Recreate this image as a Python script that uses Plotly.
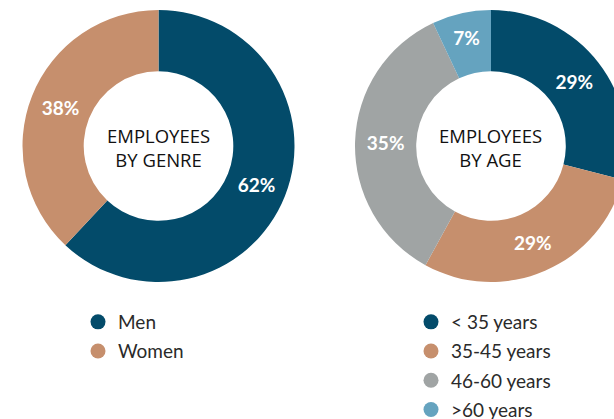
import plotly.graph_objects as go

# ---- data ----
genre_labels = ["Men", "Women"]
genre_values = [62, 38]
age_labels = ["< 35 years", "35-45 years", "46-60 years", ">60 years"]
age_values = [29, 29, 35, 7]
genre_title = "EMPLOYEES<br>BY GENRE"
age_title = "EMPLOYEES<br>BY AGE"

genre_colors = ["#034B6A", "#C68F6D"]
age_colors = ["#034B6A", "#C68F6D", "#A0A4A4", "#65A3BF"]

W, H = 640, 419

def dom_x(cx, r):
    return [(cx - r) / W, (cx + r) / W]

def dom_y(cy_top, r):
    cy = H - cy_top
    return [(cy - r) / H, (cy + r) / H]

R = 136
pie_font = dict(family="Lato", size=19, color="white", weight="bold")
fig = go.Figure()

fig.add_trace(go.Pie(
    labels=genre_labels, values=genre_values, hole=0.55, sort=False,
    direction="clockwise", rotation=0,
    marker=dict(colors=genre_colors, line=dict(width=0)),
    texttemplate="%{value}%", textposition="inside",
    insidetextorientation="horizontal", textfont=pie_font,
    domain=dict(x=dom_x(158.5, R), y=dom_y(146, R)),
    showlegend=False, hoverinfo="label+percent",
))
fig.add_trace(go.Pie(
    labels=age_labels, values=age_values, hole=0.55, sort=False,
    direction="clockwise", rotation=0,
    marker=dict(colors=age_colors, line=dict(width=0)),
    texttemplate="%{value}%", textposition="inside",
    insidetextorientation="horizontal", textfont=pie_font,
    domain=dict(x=dom_x(491, R), y=dom_y(146, R)),
    showlegend=False, hoverinfo="label+percent",
))

# legend entries (circle markers)
for i, (lab, col) in enumerate(zip(genre_labels, genre_colors)):
    fig.add_trace(go.Scatter(x=[None], y=[None], mode="markers", name=lab,
                             marker=dict(color=col, size=15, symbol="circle"),
                             legend="legend", legendgroup="g%d" % i))
for i, (lab, col) in enumerate(zip(age_labels, age_colors)):
    fig.add_trace(go.Scatter(x=[None], y=[None], mode="markers", name=lab,
                             marker=dict(color=col, size=15, symbol="circle"),
                             legend="legend2", legendgroup="a%d" % i))

legend_common = dict(
    font=dict(family="Lato", size=19, color="#2a2a2a"),
    bgcolor="rgba(0,0,0,0)", itemclick=False, itemdoubleclick=False,
    tracegroupgap=1.5, xanchor="left", yanchor="top",
)

center_font = dict(family="Open Sans", size=18.5, color="#111111")
annotations = [
    dict(text=genre_title, x=158 / W, y=1 - 147.5 / H, xref="paper", yref="paper",
         showarrow=False, xanchor="center", yanchor="middle", font=center_font),
    dict(text=age_title, x=490 / W, y=1 - 147 / H, xref="paper", yref="paper",
         showarrow=False, xanchor="center", yanchor="middle", font=center_font),
]

fig.update_layout(
    width=W, height=H, autosize=False,
    margin=dict(l=0, r=0, t=0, b=0, autoexpand=False),
    paper_bgcolor="white", plot_bgcolor="white",
    xaxis=dict(visible=False), yaxis=dict(visible=False),
    legend=dict(x=(98 - 20) / W, y=1 - 303 / H, **legend_common),
    legend2=dict(x=(431 - 20) / W, y=1 - 303 / H, **legend_common),
    annotations=annotations,
)

fig.write_html("out.html",
               post_script="document.body.style.margin='0';document.body.style.overflow='hidden';document.documentElement.style.overflow='hidden';",
               config={"displayModeBar": False})
